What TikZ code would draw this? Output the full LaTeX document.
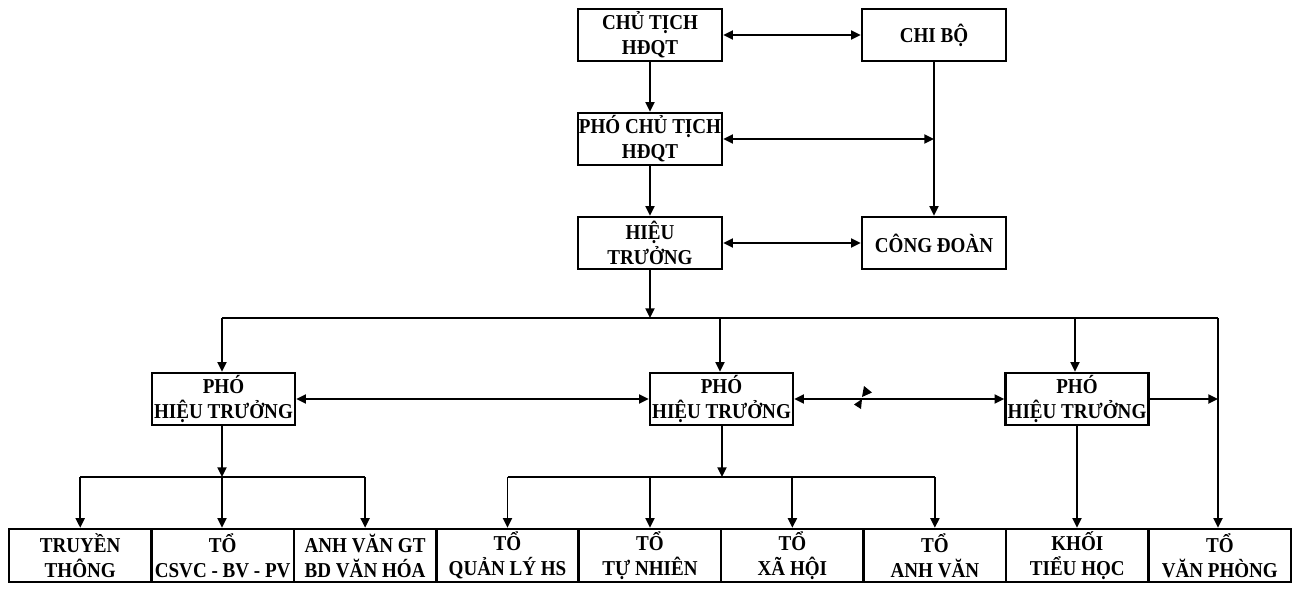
\documentclass[tikz,border=0pt]{standalone}
\usepackage{fontspec}
\setmainfont{Liberation Serif}[FakeStretch=0.9]
\usetikzlibrary{arrows.meta}
\begin{document}
\begin{tikzpicture}[x=0.5pt,y=-0.5pt,
  >={Triangle[length=4.8pt,width=4.5pt]},
  orgbox/.style={draw, line width=1.25pt, rectangle, inner sep=0pt,
    minimum width=72pt, minimum height=26pt, align=center,
    font=\fontsize{10.6}{12.5}\selectfont\bfseries},
  cellbox/.style={orgbox, minimum width=71.22pt, minimum height=26.5pt},
  link/.style={line width=0.95pt}]
\useasboundingbox (0,0) rectangle (1302,591);

% top management
\node[orgbox] (ct)  at (650,35)  {CHỦ TỊCH\\HĐQT};
\node[orgbox] (cb)  at (934,35)  {CHI BỘ};
\node[orgbox] (pct) at (650,139) {PHÓ CHỦ TỊCH\\HĐQT};
\node[orgbox] (ht)  at (650,243) {HIỆU\\TRƯỞNG};
\node[orgbox] (cd)  at (934,243) {CÔNG ĐOÀN};

% vice principals
\node[orgbox, minimum width=71.5pt] (p1) at (223.5,399) {PHÓ\\HIỆU TRƯỞNG};
\node[orgbox, minimum width=71.5pt] (p2) at (721.5,399) {PHÓ\\HIỆU TRƯỞNG};
\node[orgbox, minimum width=71.5pt] (p3) at (1077,399)  {PHÓ\\HIỆU TRƯỞNG};

% departments
\node[cellbox] (b1) at (80.2,555.5)   {TRUYỀN\\THÔNG};
\node[cellbox] (b2) at (222.7,555.5)  {TỔ\\CSVC - BV - PV};
\node[cellbox] (b3) at (365.1,555.5)  {ANH VĂN GT\\BD VĂN HÓA};
\node[cellbox] (b4) at (507.5,555.5)  {TỔ\\QUẢN LÝ HS};
\node[cellbox] (b5) at (650,555.5)    {TỔ\\TỰ NHIÊN};
\node[cellbox] (b6) at (792.4,555.5)  {TỔ\\XÃ HỘI};
\node[cellbox] (b7) at (934.9,555.5)  {TỔ\\ANH VĂN};
\node[cellbox] (b8) at (1077.3,555.5) {KHỐI\\TIỂU HỌC};
\node[cellbox] (b9) at (1219.8,555.5) {TỔ\\VĂN PHÒNG};

% bus lines
\coordinate (busL) at (222,318);
\coordinate (busR) at (1218,318);
\coordinate (busH) at (650,318);
\coordinate (busM) at (720,318);
\coordinate (busN) at (1075,318);
\coordinate (brL) at (222,477);
\coordinate (brM) at (722,477);

% top links
\draw[link,<->] (ct.east) -- (cb.west);
\draw[link,->] (ct.south) -- (pct.north);
\draw[link,->] (pct.south) -- (ht.north);
\draw[link,->] (cb.south) -- (cd.north);
\draw[link,<->] (pct.east) -- (pct.east -| cb.south);
\draw[link,<->] (ht.east) -- (cd.west);

% principal to vice principals
\draw[link,->] (ht.south) -- (busH);
\draw[link] (busL) -- (busR);
\draw[link,->] (busR) -- (busR |- b9.north);
\draw[link,->] (busL) -- (busL |- p1.north);
\draw[link,->] (busM) -- (busM |- p2.north);
\draw[link,->] (busN) -- (busN |- p3.north);

% links between vice principals
\draw[link,<->] (p1.east) -- (p2.west);
\draw[link,<->] (p2.east) -- (p3.west);
\draw[link,->] (p3.east) -- (p3.east -| busR);
\fill (864,386) -- (872,392.5) -- (862,397) -- cycle;
\fill (862,399) -- (854,404.5) -- (861,409) -- cycle;

% vice principals to departments
\draw[link,->] (brL |- p1.south) -- (brL);
\draw[link] (b1.north |- brL) -- (b3.north |- brL);
\draw[link,->] (b1.north |- brL) -- (b1.north);
\draw[link,->] (brL) -- (brL |- b2.north);
\draw[link,->] (b3.north |- brL) -- (b3.north);

\draw[link,->] (brM |- p2.south) -- (brM);
\draw[link] (b4.north |- brM) -- (b7.north |- brM);
\draw[link,->] (b4.north |- brM) -- (b4.north);
\draw[link,->] (b5.north |- brM) -- (b5.north);
\draw[link,->] (b6.north |- brM) -- (b6.north);
\draw[link,->] (b7.north |- brM) -- (b7.north);

\draw[link,->] (p3.south) -- (p3.south |- b8.north);
\end{tikzpicture}
\end{document}
